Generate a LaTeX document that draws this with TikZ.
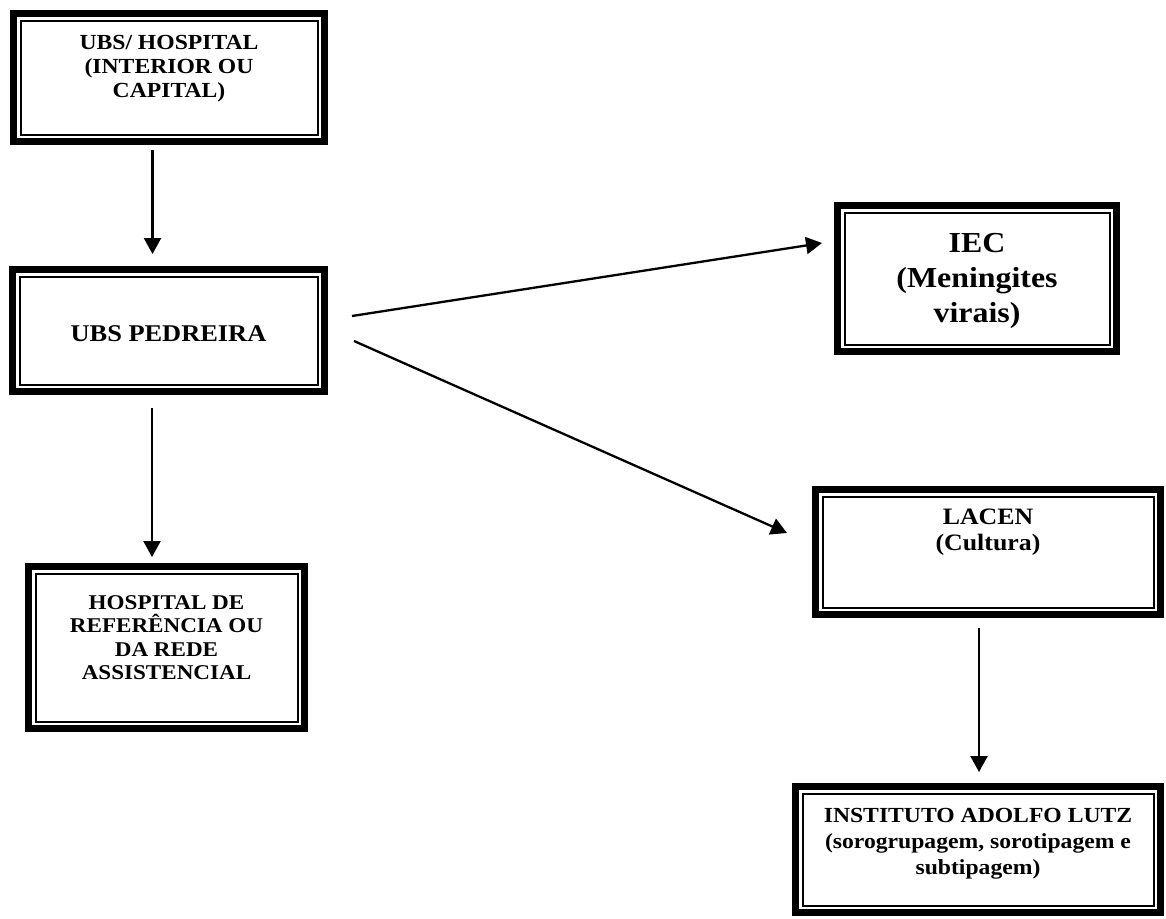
\documentclass[tikz,border=0pt]{standalone}
\usepackage{fontspec}
\setmainfont{Liberation Serif}[FakeStretch=1.1]
\usetikzlibrary{arrows.meta}

\begin{document}
\begin{tikzpicture}[x=1pt, y=-1pt,
  caixa/.style={draw, line width=7pt, inner sep=0pt, outer sep=0pt},
  filete/.style={line width=2pt},
  texto/.style={align=center},
  seta/.style={line width=2.3pt, -{Triangle[length=16pt,width=17pt]}}]
\useasboundingbox (0,0) rectangle (1166,918);

\node[caixa, minimum width=311pt, minimum height=128pt,
  label={[texto, yshift=8.5pt, font={\fontsize{21.5}{24}\selectfont\bfseries}]center:UBS/ HOSPITAL\\(INTERIOR OU\\CAPITAL)}]
  (ubs) at (169,77.5) {};
\node[caixa, minimum width=312pt, minimum height=122pt,
  label={[texto, yshift=-3pt, font={\fontsize{24}{28}\selectfont\bfseries}]center:UBS PEDREIRA}]
  (pedreira) at (168.5,330.5) {};
\node[caixa, minimum width=276pt, minimum height=162pt,
  label={[texto, yshift=10pt, font={\fontsize{21}{23.5}\selectfont\bfseries}]center:HOSPITAL DE\\REFERÊNCIA OU\\DA REDE\\ASSISTENCIAL}]
  (hosp) at (166.5,647.5) {};
\node[caixa, minimum width=279pt, minimum height=146pt,
  label={[texto, yshift=-2pt, font={\fontsize{29}{35}\selectfont\bfseries}]center:IEC\\(Meningites\\virais)}]
  (iec) at (977,278.5) {};
\node[caixa, minimum width=345pt, minimum height=125pt,
  label={[texto, yshift=20pt, font={\fontsize{23.5}{26}\selectfont\bfseries}]center:LACEN\\(Cultura)}]
  (lacen) at (988,552) {};
\node[caixa, minimum width=365pt, minimum height=126pt,
  label={[texto, yshift=6pt, font={\fontsize{21.5}{26}\selectfont\bfseries}]center:INSTITUTO ADOLFO LUTZ\\(sorogrupagem, sorotipagem e\\subtipagem)}]
  (ial) at (978,849.5) {};

% filete interno das molduras
\foreach \n in {ubs,pedreira,hosp,iec,lacen,ial}
  \draw[filete] ([shift={(7pt,7pt)}]\n.south west) rectangle ([shift={(-7pt,-7pt)}]\n.north east);

\draw[seta] ([shift={(-16.5pt,-8.5pt)}]ubs.south) -- ([shift={(-16pt,15.5pt)}]pedreira.north);
\draw[seta] ([shift={(-16.5pt,-16.5pt)}]pedreira.south) -- ([shift={(-14.5pt,9.5pt)}]hosp.north);
\draw[seta] ([shift={(27.5pt,14.5pt)}]pedreira.east) -- ([shift={(-15.5pt,35.5pt)}]iec.west);
\draw[seta] ([shift={(29.5pt,-10.5pt)}]pedreira.east) -- ([shift={(-28.5pt,19pt)}]lacen.west);
\draw[seta] ([shift={(-9pt,-13.5pt)}]lacen.south) -- ([shift={(1pt,14.5pt)}]ial.north);
\end{tikzpicture}
\end{document}
